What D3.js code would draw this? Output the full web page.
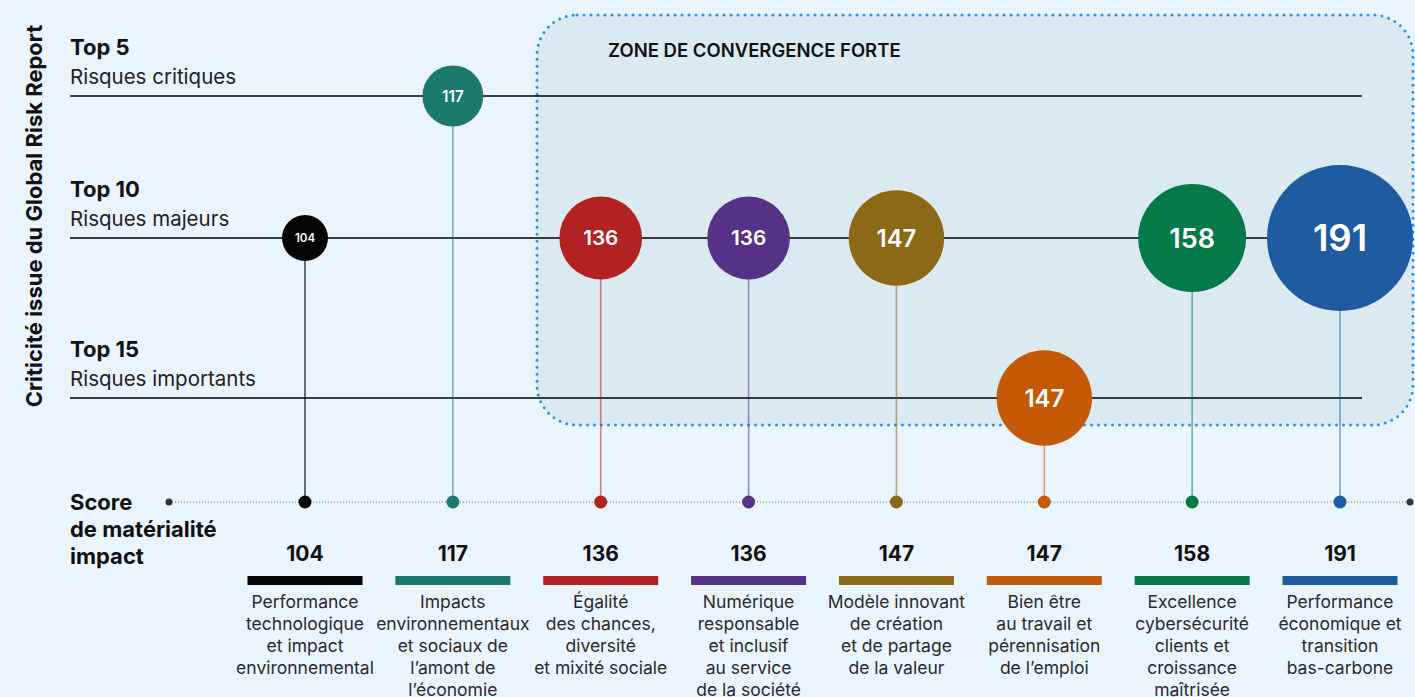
<!DOCTYPE html>
<html>
<head>
<meta charset="utf-8">
<script src="https://cdn.jsdelivr.net/npm/d3@7"></script>
<style>
  body { margin: 0; background: #eaf4fd; }
  svg { display: block; font-family: Inter, "Noto Sans", sans-serif; }
</style>
</head>
<body>
<div id="chart"></div>
<script>
// Données
const enjeux = ["perf_tech", "impacts_env", "egalite", "numerique", "modele", "bien_etre", "cyber", "perf_eco"];
const scores = [104, 117, 136, 136, 147, 147, 158, 191];
const tiers = [10, 5, 10, 10, 10, 15, 10, 10];
const colors = ["#050505", "#1b7a6b", "#b22222", "#553286", "#8b6916", "#c45a08", "#047a4b", "#1f5ba1"];
const labels = [
    ["Performance", "technologique", "et impact", "environnemental"],
    ["Impacts", "environnementaux", "et sociaux de", "l’amont de", "l’économie"],
    ["Égalité", "des chances,", "diversité", "et mixité sociale"],
    ["Numérique", "responsable", "et inclusif", "au service", "de la société"],
    ["Modèle innovant", "de création", "et de partage", "de la valeur"],
    ["Bien être", "au travail et", "pérennisation", "de l’emploi"],
    ["Excellence", "cybersécurité", "clients et", "croissance", "maîtrisée"],
    ["Performance", "économique et", "transition", "bas-carbone"]
];
const tierValues = [5, 10, 15];
const tierTitles = ["Top 5", "Top 10", "Top 15"];
const tierSubtitles = ["Risques critiques", "Risques majeurs", "Risques importants"];

const W = 1415, H = 697;
const baseY = 502;

const svg = d3.select("#chart")
    .append("svg")
    .attr("width", W)
    .attr("height", H);

// Echelles
const xScale = d3.scalePoint().domain(enjeux).range([305, 1340]);
const yScale = d3.scaleLinear().domain(tierValues).range([96, 238, 398]);
const rScale = d3.scaleLinear().domain([104, 191]).range([23, 73]);

const data = enjeux.map((k, i) => ({key: k, score: scores[i], tier: tiers[i], clr: colors[i], lines: labels[i]}));

// Zone de convergence forte
svg.append("rect")
    .attr("x", 537).attr("y", 15)
    .attr("width", 876).attr("height", 410)
    .attr("rx", 40)
    .attr("fill", "#dbeaf1")
    .attr("stroke", "#2196f3")
    .attr("stroke-width", 3)
    .attr("stroke-linecap", "round")
    .attr("stroke-dasharray", "0 7");
svg.append("text")
    .attr("x", 608).attr("y", 57)
    .attr("font-size", 18.5).attr("font-weight", 600)
    .attr("fill", "#111")
    .text("ZONE DE CONVERGENCE FORTE");

// Titre vertical
svg.append("text")
    .attr("transform", "translate(42,216) rotate(-90)")
    .attr("text-anchor", "middle")
    .attr("font-size", 22).attr("font-weight", 700)
    .attr("fill", "#111")
    .text("Criticité issue du Global Risk Report");

// Lignes des niveaux
tierValues.forEach((t, i) => {
    const y = yScale(t);
    svg.append("line")
        .attr("x1", 70).attr("x2", 1362)
        .attr("y1", y).attr("y2", y)
        .attr("stroke", "#000").attr("stroke-width", 1.3);
    svg.append("text")
        .attr("x", 70).attr("y", y - 41)
        .attr("font-size", 22).attr("font-weight", 700).attr("fill", "#111")
        .text(tierTitles[i]);
    svg.append("text")
        .attr("x", 70).attr("y", y - 12)
        .attr("font-size", 20.5).attr("fill", "#222")
        .text(tierSubtitles[i]);
});

// Ligne pointillée du score
svg.append("line")
    .attr("x1", 169).attr("x2", 1410)
    .attr("y1", baseY).attr("y2", baseY)
    .attr("stroke", "#777").attr("stroke-width", 1)
    .attr("stroke-dasharray", "1 2");
svg.selectAll(".end-dot")
    .data([169, 1410])
    .enter()
    .append("circle")
    .attr("cx", d => d).attr("cy", baseY).attr("r", 3.5)
    .attr("fill", "#333");

["Score", "de matérialité", "impact"].forEach((s, i) => {
    svg.append("text")
        .attr("x", 70).attr("y", 510 + i * 27)
        .attr("font-size", 22).attr("font-weight", 700).attr("fill", "#111")
        .text(s);
});

// Tiges
svg.selectAll(".stem")
    .data(data)
    .enter()
    .append("line")
    .attr("x1", d => xScale(d.key)).attr("x2", d => xScale(d.key))
    .attr("y1", d => yScale(d.tier)).attr("y2", baseY)
    .attr("stroke", d => d.clr)
    .attr("stroke-opacity", d => d.score == 104 ? 0.7 : 0.55)
    .attr("stroke-width", 1.6);

// Points sur la ligne du score
svg.selectAll(".base-dot")
    .data(data)
    .enter()
    .append("circle")
    .attr("cx", d => xScale(d.key)).attr("cy", baseY).attr("r", 6.5)
    .attr("fill", d => d.clr);

// Bulles
const bubbles = svg.selectAll(".bubble")
    .data(data)
    .enter()
    .append("g")
    .attr("transform", d => `translate(${xScale(d.key)},${yScale(d.tier)})`);
bubbles.append("circle")
    .attr("r", d => rScale(d.score))
    .attr("fill", d => d.clr);
bubbles.append("text")
    .attr("text-anchor", "middle")
    .attr("dy", "0.36em")
    .attr("font-size", d => rScale(d.score) * 0.5)
    .attr("font-weight", 600)
    .attr("fill", "#fff")
    .text(d => d.score);

// Scores, barres et libellés en bas
svg.selectAll(".score-txt")
    .data(data)
    .enter()
    .append("text")
    .attr("x", d => xScale(d.key)).attr("y", 561)
    .attr("text-anchor", "middle")
    .attr("font-size", 21).attr("font-weight", 700).attr("fill", "#111")
    .text(d => d.score);

svg.selectAll(".bar")
    .data(data)
    .enter()
    .append("rect")
    .attr("x", d => xScale(d.key) - 57.5).attr("y", 576)
    .attr("width", 115).attr("height", 9)
    .attr("fill", d => d.clr);

const lbl = svg.selectAll(".lbl")
    .data(data)
    .enter()
    .append("text")
    .attr("text-anchor", "middle")
    .attr("font-size", 17.5).attr("fill", "#2a2a2a");
lbl.selectAll("tspan")
    .data(d => d.lines.map(l => ({l: l, x: xScale(d.key)})))
    .enter()
    .append("tspan")
    .attr("x", d => d.x)
    .attr("y", (d, i) => 608 + i * 22)
    .text(d => d.l);
</script>
</body>
</html>
